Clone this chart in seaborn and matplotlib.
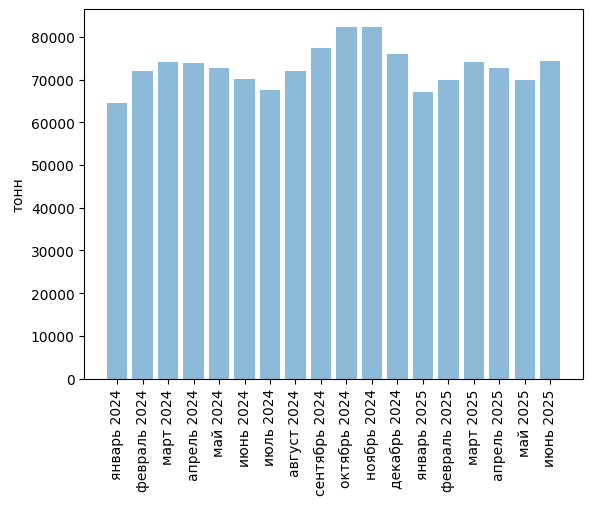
import matplotlib
matplotlib.use("Agg")
import matplotlib.pyplot as plt
import seaborn as sns
import pandas as pd

months = ["январь 2024", "февраль 2024", "март 2024", "апрель 2024", "май 2024",
          "июнь 2024", "июль 2024", "август 2024", "сентябрь 2024", "октябрь 2024",
          "ноябрь 2024", "декабрь 2024", "январь 2025", "февраль 2025", "март 2025",
          "апрель 2025", "май 2025", "июнь 2025"]
values = [64600, 72100, 74200, 73800, 72600, 70200, 67650, 71900, 77500, 82400,
          82200, 76100, 67200, 69800, 74200, 72800, 70000, 74450]

df = pd.DataFrame({"month": months, "tons": values})

fig, ax = plt.subplots(figsize=(5.89, 5.06), dpi=100)
sns.barplot(data=df, x="month", y="tons", color="#1f77b4", alpha=0.5,
            saturation=1, width=0.8, ax=ax, errorbar=None)
n = len(months)
span = (n - 1) + 0.8
ax.set_xlim(-0.4 - 0.05 * span, n - 1 + 0.4 + 0.05 * span)
ax.set_ylim(0, max(values) * 1.05)
ax.set_xlabel("")
ax.set_ylabel("тонн")
ax.tick_params(axis="x", rotation=90)
fig.subplots_adjust(left=0.1431, right=0.990, top=0.9802, bottom=0.250)
fig.savefig("out.png", dpi=100)
